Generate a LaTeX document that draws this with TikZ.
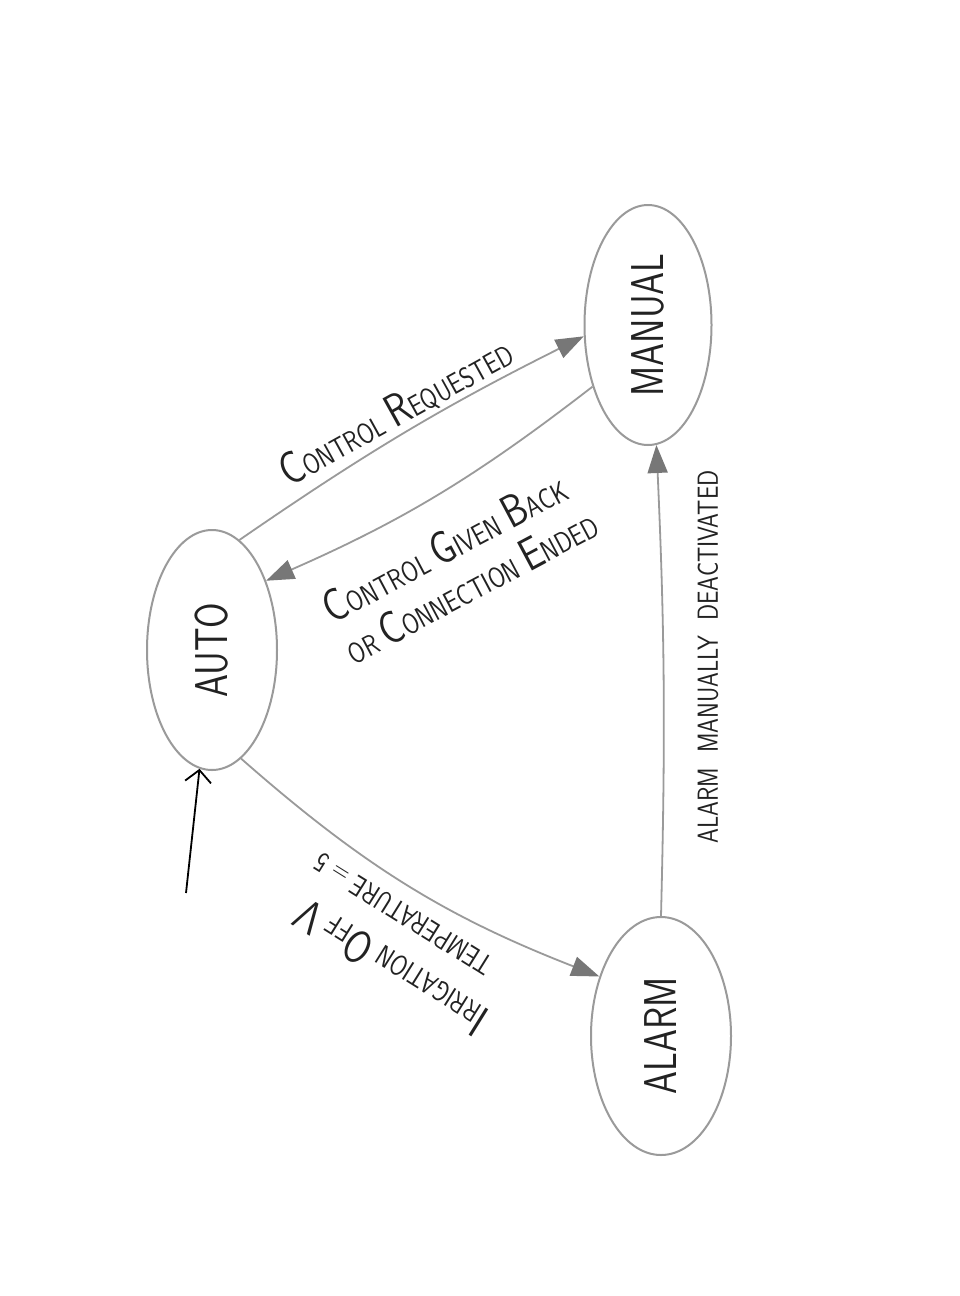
\documentclass[tikz,border=0pt]{standalone}
\usepackage{graphicx}
\usetikzlibrary{shapes.geometric,arrows.meta}
\definecolor{edgegray}{HTML}{9A9A9A}
\definecolor{tipgray}{HTML}{777777}
\definecolor{ink}{HTML}{222222}
\newcommand\hwBig{\fontsize{46}{46}\selectfont}
\newcommand\hwSm{\fontsize{29}{46}\selectfont}
\newcommand\hwL[1]{\scalebox{0.82}[1]{#1}}
\newcommand\hwState[1]{\rotatebox{90}{\scalebox{0.8}[1]{\fontsize{46}{50}\selectfont #1}}}
\begin{document}
\begin{tikzpicture}[x=1pt,y=-1pt,
  state/.style={draw=edgegray, line width=2pt, ellipse, inner sep=0pt, text=ink, font=\sffamily},
  trans/.style={draw=edgegray, line width=1.8pt, -{Triangle[length=28pt,width=20pt,color=tipgray]}},
  initarrow/.style={draw=black, line width=1.8pt, -{Straight Barb[length=12pt,width=26pt]}},
  lbl/.style={text=ink, font=\sffamily\fontsize{29}{46}\selectfont, inner sep=0pt, align=left}]
\useasboundingbox (0,0) rectangle (960,1296);
\fill[white] (0,0) rectangle (960,1296);

\node[state, minimum width=130pt, minimum height=240pt] (auto) at (212,650) {\hwState{AUTO}};
\node[state, minimum width=127pt, minimum height=240pt] (manual) at (648,325) {\hwState{MANUAL}};
\node[state, minimum width=140pt, minimum height=238pt] (alarm) at (661,1036) {\hwState{ALARM}};

\draw[trans] (auto.76) to[bend left=4] (manual.190);
\draw[trans] (manual.228) to[bend left=7] (auto.52);
\draw[trans] (auto.285) to[bend right=10] (alarm.136);
\draw[trans] (alarm.90) to[bend right=2] (manual.274);

\coordinate (init) at (186,893);
\draw[initarrow] (init) -- (auto.264);

\node[lbl, rotate=29] (lreq) at (396,412) {\hwL{\hwBig C\hwSm ONTROL \hwBig R\hwSm EQUESTED}};
\node[lbl, rotate=28] (lback) at (460,565) {\hwL{\hwBig C\hwSm ONTROL \hwBig G\hwSm IVEN \hwBig B\hwSm ACK}\\
  \hwL{\hwSm OR \hwBig C\hwSm ONNECTION \hwBig E\hwSm NDED}};
\node[lbl, rotate=148] (lirr) at (398,945) {\hwL{\hwBig I\hwSm RRIGATION \hwBig O\hwSm FF \hwBig V}\\
  \hwL{\hwSm \quad TEMPERATURE = 5}};
\node[lbl, rotate=90] (lalarm) at (708,657) {\hwL{\hwSm ALARM\ \ MANUALLY\ \ DEACTIVATED}};
\end{tikzpicture}
\end{document}
